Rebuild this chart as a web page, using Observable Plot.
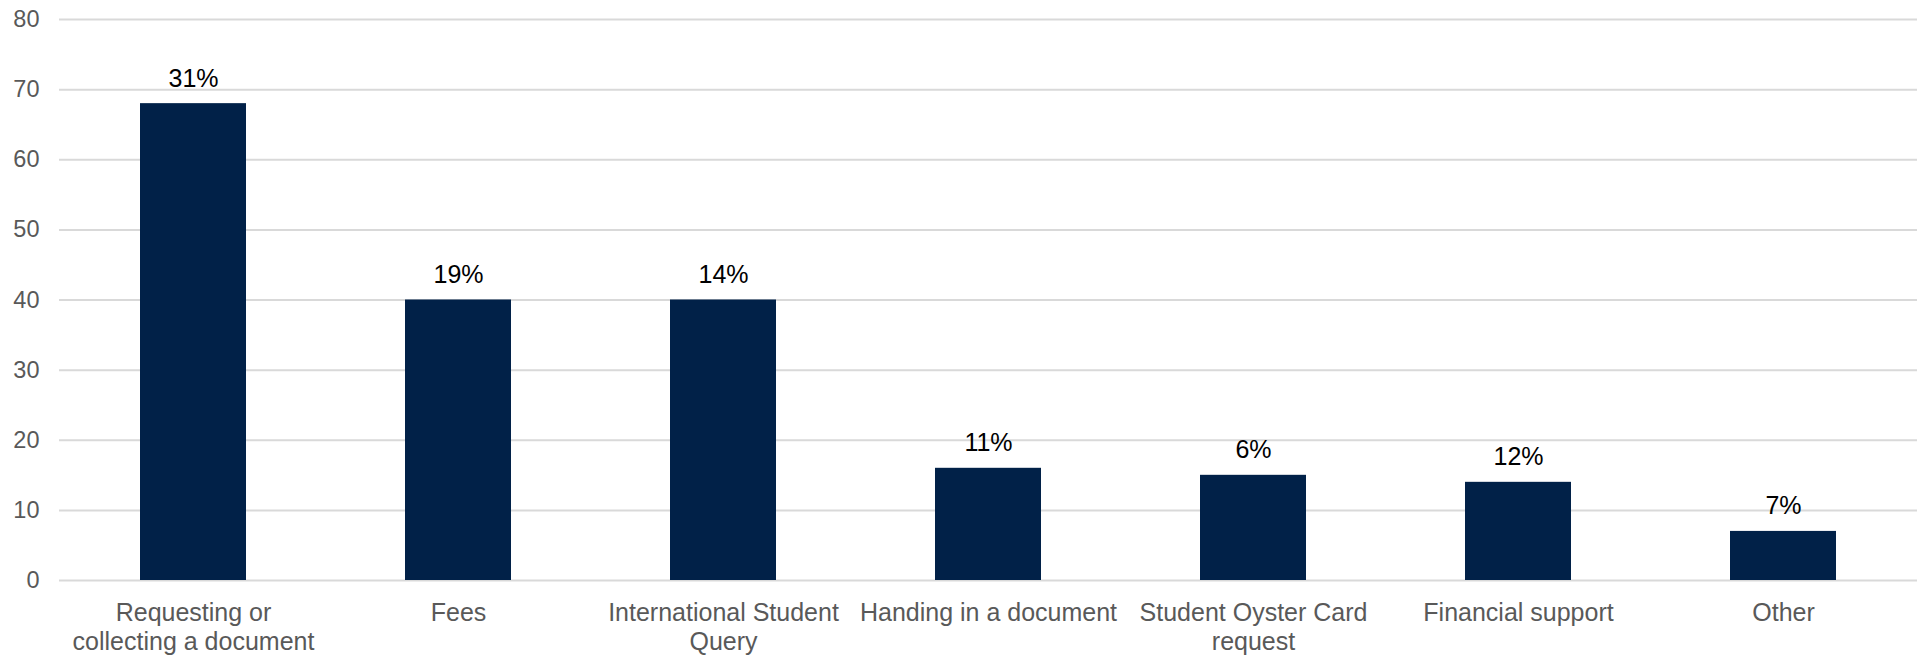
<!DOCTYPE html>
<html>
<head>
<meta charset="utf-8">
<script src="https://cdn.jsdelivr.net/npm/d3@7"></script>
<script src="https://cdn.jsdelivr.net/npm/@observablehq/plot@0.6"></script>
<style>
  html, body { margin: 0; padding: 0; background: #ffffff; }
  #chart svg { display: block; }
</style>
</head>
<body>
<div id="chart"></div>
<script>
const categories = [
  "Requesting or collecting a document",
  "Fees",
  "International Student Query",
  "Handing in a document",
  "Student Oyster Card request",
  "Financial support",
  "Other"
];
const tickLabels = [
  "Requesting or\ncollecting a document",
  "Fees",
  "International Student\nQuery",
  "Handing in a document",
  "Student Oyster Card\nrequest",
  "Financial support",
  "Other"
];
const counts = [68, 40, 40, 16, 15, 14, 7];
const percentLabels = ["31%", "19%", "14%", "11%", "6%", "12%", "7%"];
const yTicks = [0, 10, 20, 30, 40, 50, 60, 70, 80];

const data = categories.map((c, i) => ({
  category: c,
  value: counts[i],
  pct: percentLabels[i]
}));
const labelOf = new Map(categories.map((c, i) => [c, tickLabels[i]]));

const chart = Plot.plot({
  width: 1919,
  height: 658,
  marginLeft: 59,
  marginRight: 2,
  marginTop: 19,
  marginBottom: 78,
  style: {
    fontFamily: "'Liberation Sans', Arial, sans-serif",
    background: "#ffffff",
    overflow: "visible"
  },
  x: {
    domain: categories,
    paddingInner: 0.6,
    paddingOuter: 0.3,
    label: null
  },
  y: {
    domain: [0, 80],
    label: null
  },
  marks: [
    Plot.gridY(yTicks, {stroke: "#d9d9d9", strokeOpacity: 1, strokeWidth: 2}),
    Plot.barY(data, {x: "category", y: "value", fill: "#012148"}),
    Plot.text(data, {
      x: "category",
      y: "value",
      text: "pct",
      dy: -25,
      lineAnchor: "middle",
      fill: "#000000",
      fontSize: 25
    }),
    Plot.axisY(yTicks, {
      tickSize: 0,
      tickPadding: 20,
      fontSize: 23.5,
      fill: "#595959",
      label: null
    }),
    Plot.axisX({
      tickSize: 0,
      tickPadding: 20,
      fontSize: 25,
      fill: "#595959",
      lineHeight: 1.15,
      tickFormat: d => labelOf.get(d),
      label: null
    })
  ]
});
document.getElementById("chart").appendChild(chart);
</script>
</body>
</html>
